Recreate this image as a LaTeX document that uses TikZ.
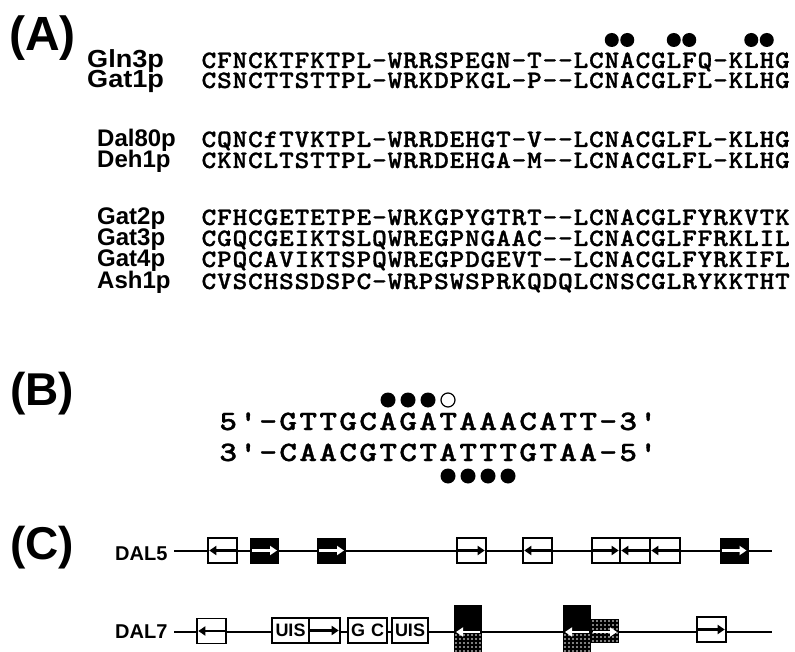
\documentclass[tikz,border=0pt]{standalone}
\usepackage{fontspec}
\usepackage{graphicx}
\newfontfamily\hv{Liberation Sans}
\newfontfamily\seqfont{lmmonolt10-bold.otf}[FakeBold=1]
\usetikzlibrary{arrows.meta}

\newlength\seqcw
\newcommand\seqsx{1.1}
\newcommand\seqcell[1]{\makebox[\seqcw][c]{\scalebox{\seqsx}[1]{#1}}}
\def\seqloop#1{\ifx#1\relax\else\seqcell{#1}\expandafter\seqloop\fi}
\newcommand\seqtext[1]{\seqloop#1\relax}

\tikzset{
  panel/.style={anchor=base west, inner sep=0pt, font=\hv\bfseries\fontsize{46}{46}\selectfont},
  pname/.style={anchor=base west, inner sep=0pt, font=\hv\bfseries\fontsize{24}{24}\selectfont},
  seqA/.style={anchor=base west, inner sep=0pt, font=\seqfont\fontsize{25}{25}\selectfont\setlength\seqcw{15.5pt}\renewcommand\seqsx{1.12}},
  seqB/.style={anchor=base west, inner sep=0pt, font=\seqfont\fontsize{28}{28}\selectfont\setlength\seqcw{20pt}\renewcommand\seqsx{1.2}},
  gname/.style={anchor=base west, inner sep=0pt, font=\hv\bfseries\fontsize{20}{20}\selectfont},
  dotA/.style={circle, fill=black, inner sep=0pt, minimum size=14pt},
  dotB/.style={circle, fill=black, inner sep=0pt, minimum size=15pt},
  odotB/.style={circle, draw=black, line width=1.2pt, fill=white, inner sep=0pt, minimum size=14pt},
  dna/.style={line width=2.6pt},
  obox/.style={draw=black, line width=1.4pt, fill=white, inner sep=0pt, minimum width=29pt, minimum height=25pt},
  bbox/.style={draw=black, line width=1pt, fill=black, inner sep=0pt, minimum width=28pt, minimum height=25pt},
  tbox/.style={draw=black, line width=1.4pt, fill=white, inner sep=0pt, minimum height=25pt, font=\hv\bfseries\fontsize{18}{18}\selectfont},
  barr/.style={line width=2.4pt, -{Triangle[length=7pt,width=9pt]}, shorten >=2pt},
  warr/.style={white, line width=2.2pt, -{Triangle[length=7pt,width=9pt]}, shorten >=2pt, shorten <=2pt},
}

% white dot grid: x0 y0 nx ny (spacing 4)
\newcommand\whitedots[4]{%
  \foreach \gi in {0,...,#3}{\foreach \gj in {0,...,#4}{\fill[white] ({#1+4*\gi},{#2+4*\gj}) circle (0.9pt);}}}

\begin{document}
\begin{tikzpicture}[x=1pt,y=-1pt]
\useasboundingbox (0,0) rectangle (795,652);
\clip (0,0) rectangle (795,652);
\fill[white] (0,0) rectangle (795,652);

% ---------------- panel A
\node[panel, font=\hv\bfseries\fontsize{48}{48}\selectfont] (lA) at (9,51) {(A)};
\node[pname] (n1) at (87,68) {\scalebox{1.13}[1.03]{Gln3p}};
\node[pname] (n2) at (87,88) {\scalebox{1.13}[1.03]{Gat1p}};
\node[pname] (n3) at (97,147) {Dal80p};
\node[pname] (n4) at (97,168) {Deh1p};
\node[pname] (n5) at (97,225) {Gat2p};
\node[pname] (n6) at (97,246) {Gat3p};
\node[pname] (n7) at (97,267) {Gat4p};
\node[pname] (n8) at (97,289) {Ash1p};

\node[seqA] (s1) at (201,68) {\seqtext{CFNCKTFKTPL-WRRSPEGN-T--LCNACGLFQ-KLHG}};
\node[seqA] (s2) at (201,88) {\seqtext{CSNCTTSTTPL-WRKDPKGL-P--LCNACGLFL-KLHG}};
\node[seqA] (s3) at (201,147) {\seqtext{CQNCfTVKTPL-WRRDEHGT-V--LCNACGLFL-KLHG}};
\node[seqA] (s4) at (201,168) {\seqtext{CKNCLTSTTPL-WRRDEHGA-M--LCNACGLFL-KLHG}};
\node[seqA] (s5) at (201,225) {\seqtext{CFHCGETETPE-WRKGPYGTRT--LCNACGLFYRKVTK}};
\node[seqA] (s6) at (201,246) {\seqtext{CGQCGEIKTSLQWREGPNGAAC--LCNACGLFFRKLIL}};
\node[seqA] (s7) at (201,267) {\seqtext{CPQCAVIKTSPQWREGPDGEVT--LCNACGLFYRKIFL}};
\node[seqA] (s8) at (201,289) {\seqtext{CVSCHSSDSPC-WRPSWSPRKQDQLCNSCGLRYKKTHT}};

\foreach \i/\nm in {26/a1,27/a2,30/a3,31/a4,35/a5,36/a6}
  \node[dotA] (\nm) at ({201+15.5*(\i+0.5)},40) {};

% ---------------- panel B
\node[panel] (lB) at (10,405) {(B)};
\node[seqB] (t1) at (218,430) {\seqtext{5'-GTTGCAGATAAACATT-3'}};
\node[seqB] (t2) at (218,461) {\seqtext{3'-CAACGTCTATTTGTAA-5'}};
\foreach \i/\nm in {8/b1,9/b2,10/b3}
  \node[dotB] (\nm) at ({218+20*(\i+0.5)},400) {};
\node[odotB] (b4) at ({218+20*11.5},400) {};
\foreach \i/\nm in {11/c1,12/c2,13/c3,14/c4}
  \node[dotB] (\nm) at ({218+20*(\i+0.5)},476) {};

% ---------------- panel C
\node[panel] (lC) at (10,559) {(C)};
\node[gname] (g5) at (115,560) {DAL5};
\node[gname] (g7) at (115,638) {DAL7};

% DAL5
\coordinate (d5s) at (174,551);
\coordinate (d5e) at (772,551);
\draw[dna] (d5s) -- (d5e);
\node[obox] (p1) at (222.5,550.5) {};
\draw[barr] (p1.east) -- (p1.west);
\node[bbox] (p2) at (264.5,550.5) {};
\draw[warr] (p2.west) -- (p2.east);
\node[bbox] (p3) at (331.5,550.5) {};
\draw[warr] (p3.west) -- (p3.east);
\node[obox] (p4) at (471.5,550.5) {};
\draw[barr] (p4.west) -- (p4.east);
\node[obox] (p5) at (537.5,550.5) {};
\draw[barr] (p5.east) -- (p5.west);
\node[obox, minimum width=28pt] (p6) at (606,550.5) {};
\draw[barr] (p6.west) -- (p6.east);
\node[obox, minimum width=30pt] (p7) at (635,550.5) {};
\draw[barr] (p7.east) -- (p7.west);
\node[obox, minimum width=30pt] (p8) at (665,550.5) {};
\draw[barr] (p8.east) -- (p8.west);
\node[bbox] (p9) at (734,550.5) {};
\draw[warr] (p9.west) -- (p9.east);

% DAL7
\coordinate (d7s) at (174,632);
\coordinate (d7e) at (772,632);
\draw[dna] (d7s) -- (d7e);
\node[obox] (q1) at (211.5,631) {};
\draw[barr] (q1.east) -- (q1.west);
\node[tbox, minimum width=37pt] (q2) at (290.5,630.5) {UIS};
\node[tbox, minimum width=31pt] (q3) at (324.5,630.5) {};
\draw[barr] (q3.west) -- (q3.east);
\node[tbox, minimum width=39pt] (q4) at (367.5,630.5) {G\,\,C};
\node[tbox, minimum width=36pt] (q5) at (410,630.5) {UIS};

% black / dotted boxes
\fill[black] (454,605) rectangle (482,662);
\whitedots{456}{635}{6}{6}
\coordinate (r1w) at (454,632);
\coordinate (r1e) at (482,632);
\draw[warr] (r1e) -- (r1w);

\fill[black] (563,605) rectangle (591,662);
\whitedots{565}{635}{6}{6}
\fill[black] (591,619) rectangle (619,643);
\whitedots{593}{621}{6}{5}
\coordinate (r2w) at (563,632);
\coordinate (r2e) at (591,632);
\draw[warr] (r2e) -- (r2w);
\coordinate (r3w) at (591,632);
\coordinate (r3e) at (619,632);
\draw[warr] (r3w) -- (r3e);

\node[obox] (q6) at (711.5,629.5) {};
\draw[barr] (q6.west) -- (q6.east);
\end{tikzpicture}
\end{document}
